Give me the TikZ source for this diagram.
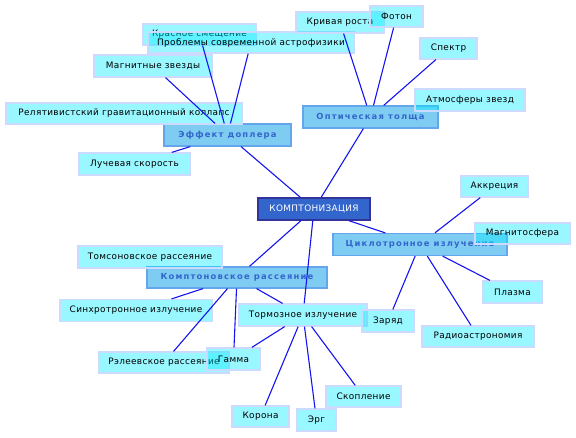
\documentclass[tikz,border=0pt]{standalone}
\usepackage{fontspec}
\setmainfont{DejaVu Sans}
\newfontfamily\leaffont[LetterSpace=4]{DejaVu Sans}
\newfontfamily\midfont[LetterSpace=14]{DejaVu Sans}
\definecolor{leaffill}{RGB}{0,235,255}
\definecolor{leafborder}{RGB}{205,218,255}
\definecolor{midfill}{RGB}{0,153,230}
\definecolor{midborder}{RGB}{100,165,235}
\definecolor{midtext}{RGB}{51,102,204}
\definecolor{cfill}{RGB}{51,102,204}
\definecolor{cborder}{RGB}{51,51,153}
\definecolor{linkc}{RGB}{20,20,240}
\begin{document}
\begin{tikzpicture}[x=1pt,y=-1pt,
  leaf/.style={draw=leafborder, line width=1.2pt, fill=leaffill, fill opacity=0.4, text opacity=1,
    inner sep=0pt, font=\leaffont\fontsize{8.9}{10}\selectfont, text=black},
  mid/.style={draw=midborder, line width=1.2pt, fill=midfill, fill opacity=0.5, text opacity=1,
    inner sep=0pt, font=\midfont\bfseries\fontsize{8.4}{10}\selectfont, text=midtext},
  center/.style={draw=cborder, line width=1.3pt, fill=cfill, inner sep=0pt,
    font=\leaffont\fontsize{8.9}{10}\selectfont, text=white},
  link/.style={draw=linkc, line width=1.1pt}]
\useasboundingbox (0,0) rectangle (576,437);
% mid-level boxes
\node[mid, minimum width=127pt, minimum height=22pt] (dop) at (227.5,135) {Эффект доплера};
\node[mid, minimum width=135pt, minimum height=22pt] (opt) at (370.5,117) {Оптическая толща};
\node[mid, minimum width=174pt, minimum height=22pt] (cikl) at (420,244.5) {Циклотронное излучение};
\node[mid, minimum width=180pt, minimum height=21pt] (kompr) at (237,277.5) {Комптоновское рассеяние};
\node[center, minimum width=112pt, minimum height=22pt] (komp) at (314,209) {КОМПТОНИЗАЦИЯ};
% leaves
\node[leaf, minimum width=113pt, minimum height=21pt] (kras) at (199.5,34.5) {Красное смещение};
\node[leaf, minimum width=206pt, minimum height=21pt] (prob) at (251,42.5) {Проблемы современной астрофизики};
\node[leaf, minimum width=118pt, minimum height=22pt] (magn) at (153,66) {Магнитные звезды};
\node[leaf, minimum width=236pt, minimum height=21pt] (rel) at (124,113.5) {Релятивистский гравитационный коллапс};
\node[leaf, minimum width=111pt, minimum height=22pt] (luch) at (134.5,164) {Лучевая скорость};
\node[leaf, minimum width=88pt, minimum height=21pt] (kriv) at (340,22.5) {Кривая роста};
\node[leaf, minimum width=53pt, minimum height=21pt] (foton) at (396.5,16.5) {Фотон};
\node[leaf, minimum width=57pt, minimum height=21pt] (spektr) at (448.5,48.5) {Спектр};
\node[leaf, minimum width=110pt, minimum height=22pt] (atm) at (470,100) {Атмосферы звезд};
\node[leaf, minimum width=144pt, minimum height=22pt] (toms) at (150,257) {Томсоновское рассеяние};
\node[leaf, minimum width=152pt, minimum height=22pt] (sinh) at (136,310.5) {Синхротронное излучение};
\node[leaf, minimum width=130pt, minimum height=21pt] (rele) at (164,362.5) {Рэлеевское рассеяние};
\node[leaf, minimum width=53pt, minimum height=22pt] (gamma) at (233.5,359) {Гамма};
\node[leaf, minimum width=128pt, minimum height=22pt] (torm) at (303,315) {Тормозное излучение};
\node[leaf, minimum width=57pt, minimum height=21pt] (korona) at (260.5,416.5) {Корона};
\node[leaf, minimum width=39pt, minimum height=22pt] (erg) at (316.5,420) {Эрг};
\node[leaf, minimum width=75pt, minimum height=21pt] (skop) at (363.5,396.5) {Скопление};
\node[leaf, minimum width=67pt, minimum height=21pt] (akkr) at (494.5,186.5) {Аккреция};
\node[leaf, minimum width=95pt, minimum height=21pt] (magnsf) at (522.5,233.5) {Магнитосфера};
\node[leaf, minimum width=59pt, minimum height=22pt] (plazma) at (512.5,292) {Плазма};
\node[leaf, minimum width=52pt, minimum height=22pt] (zaryad) at (388,321) {Заряд};
\node[leaf, minimum width=112pt, minimum height=21pt] (radio) at (478,336.5) {Радиоастрономия};
% connectors
\draw[link] (komp) -- (dop);
\draw[link] (komp) -- (opt);
\draw[link] (komp) -- (cikl);
\draw[link] (komp) -- (kompr);
\draw[link] (komp) -- (torm);
\draw[link] (dop) -- (kras);
\draw[link] (dop) -- (prob);
\draw[link] (dop) -- (magn);
\draw[link] (dop) -- (luch);
\draw[link] (opt) -- (kriv);
\draw[link] (opt) -- (foton);
\draw[link] (opt) -- (spektr);
\draw[link] (cikl) -- (akkr);
\draw[link] (cikl) -- (plazma);
\draw[link] (cikl) -- (radio);
\draw[link] (cikl) -- (zaryad);
\draw[link] (kompr) -- (sinh);
\draw[link] (kompr) -- (rele);
\draw[link] (kompr) -- (gamma);
\draw[link] (kompr) -- (torm);
\draw[link] (torm) -- (gamma);
\draw[link] (torm) -- (korona);
\draw[link] (torm) -- (erg);
\draw[link] (torm) -- (skop);
\end{tikzpicture}
\end{document}
